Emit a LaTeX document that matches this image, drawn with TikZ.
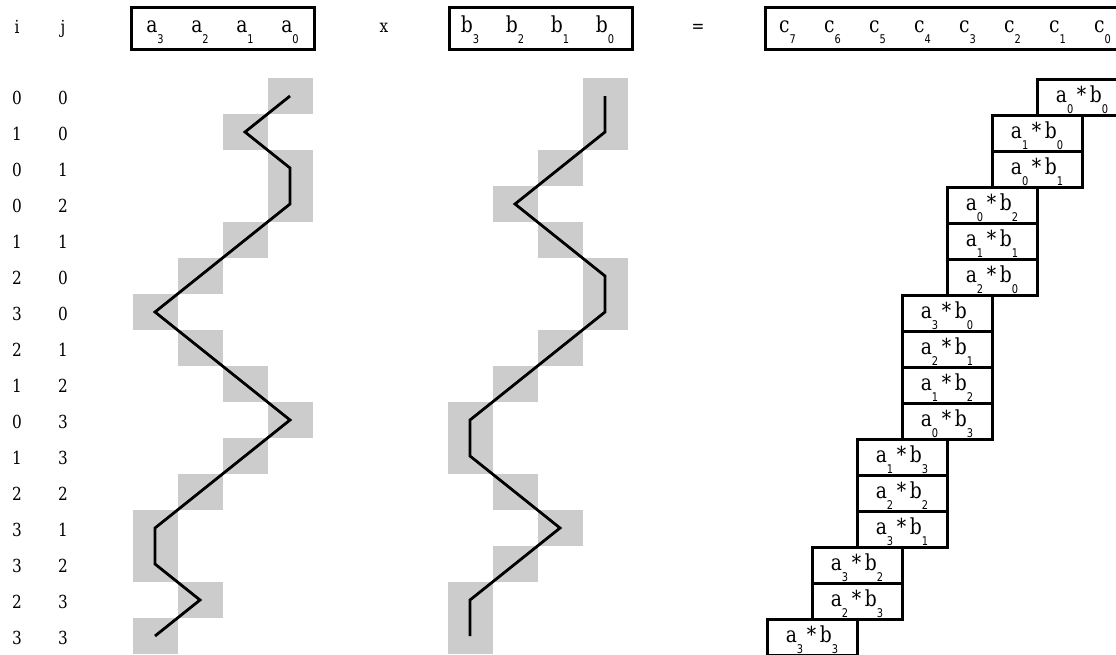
\documentclass[tikz,border=0pt]{standalone}
\usepackage{fontspec}
\setmainfont[FakeStretch=0.85]{DejaVu Serif}
\newfontfamily\subfont[FakeStretch=0.82]{DejaVu Sans}
% letter with a dropped, condensed index
\newcommand{\ix}[2]{#1\raisebox{-0.5em}{\subfont\fontsize{12}{12}\selectfont #2}}
\tikzset{
  num/.style={font=\fontsize{18}{18}\selectfont, anchor=base, inner sep=0pt},
  lbl/.style={font=\fontsize{22}{22}\selectfont, anchor=base, inner sep=0pt},
  hdrbox/.style={draw, line width=3pt, minimum height=42pt, inner sep=0pt},
  cell/.style={fill=black!20, minimum width=45pt, minimum height=36pt, inner sep=0pt},
  prodbox/.style={draw, line width=3pt, minimum width=90pt, minimum height=36pt, inner sep=0pt},
  walk/.style={line width=2.8pt, line join=miter},
}
\begin{document}
\begin{tikzpicture}[x=1pt, y=-1pt]
\useasboundingbox (0,0) rectangle (1116,654);
\clip (0,0) rectangle (1116,654);
\def\pairs{0/0,1/0,0/1,0/2,1/1,2/0,3/0,2/1,1/2,0/3,1/3,2/2,3/1,3/2,2/3,3/3}

% header row
\node[num] (hi) at (17,33) {i};
\node[num] (hj) at (63,33) {j};
\node[hdrbox, minimum width=183pt] (A) at (222.5,28) {};
\node[hdrbox, minimum width=183pt] (B) at (540.5,28) {};
\node[hdrbox, minimum width=360pt] (C) at (945,28) {};
\foreach \m in {0,...,3} {
  \pgfmathtruncatemacro\n{3-\m}
  \node[lbl] (a\n) at ({155+45*\m},32) {\ix{a}{\n}};
  \node[lbl] (b\n) at ({470+45*\m},32) {\ix{b}{\n}};
}
\foreach \m in {0,...,7} {
  \pgfmathtruncatemacro\n{7-\m}
  \node[lbl] (c\n) at ({787.5+45*\m},32) {\ix{c}{\n}};
}
\node[num] (times) at (384,32) {x};
\node[num] (eq) at (698,32) {=};

% index table, visited cells and product boxes
\foreach \i/\j [count=\k from 0] in \pairs {
  \pgfmathsetmacro\y{96+36*\k}
  \node[num] (ri\k) at (17,\y+8.5) {\i};
  \node[num] (rj\k) at (63,\y+8.5) {\j};
  \node[cell] (sa\k) at ({290-45*\i},\y) {};
  \node[cell] (sb\k) at ({605-45*\j},\y) {};
  \pgfmathtruncatemacro\s{\i+\j}
  \node[prodbox] (p\k) at ({1082-45*\s},\y+1) {};
  \node[lbl] (t\k) at ({1082-45*\s},\y+6) {\ix{a}{\i}\,*\,\ix{b}{\j}};
}

% walks through the operand digits
\draw[walk] (sa0.center) foreach \k in {1,...,15} { -- (sa\k.center) };
\draw[walk] (sb0.center) foreach \k in {1,...,15} { -- (sb\k.center) };
\end{tikzpicture}
\end{document}
